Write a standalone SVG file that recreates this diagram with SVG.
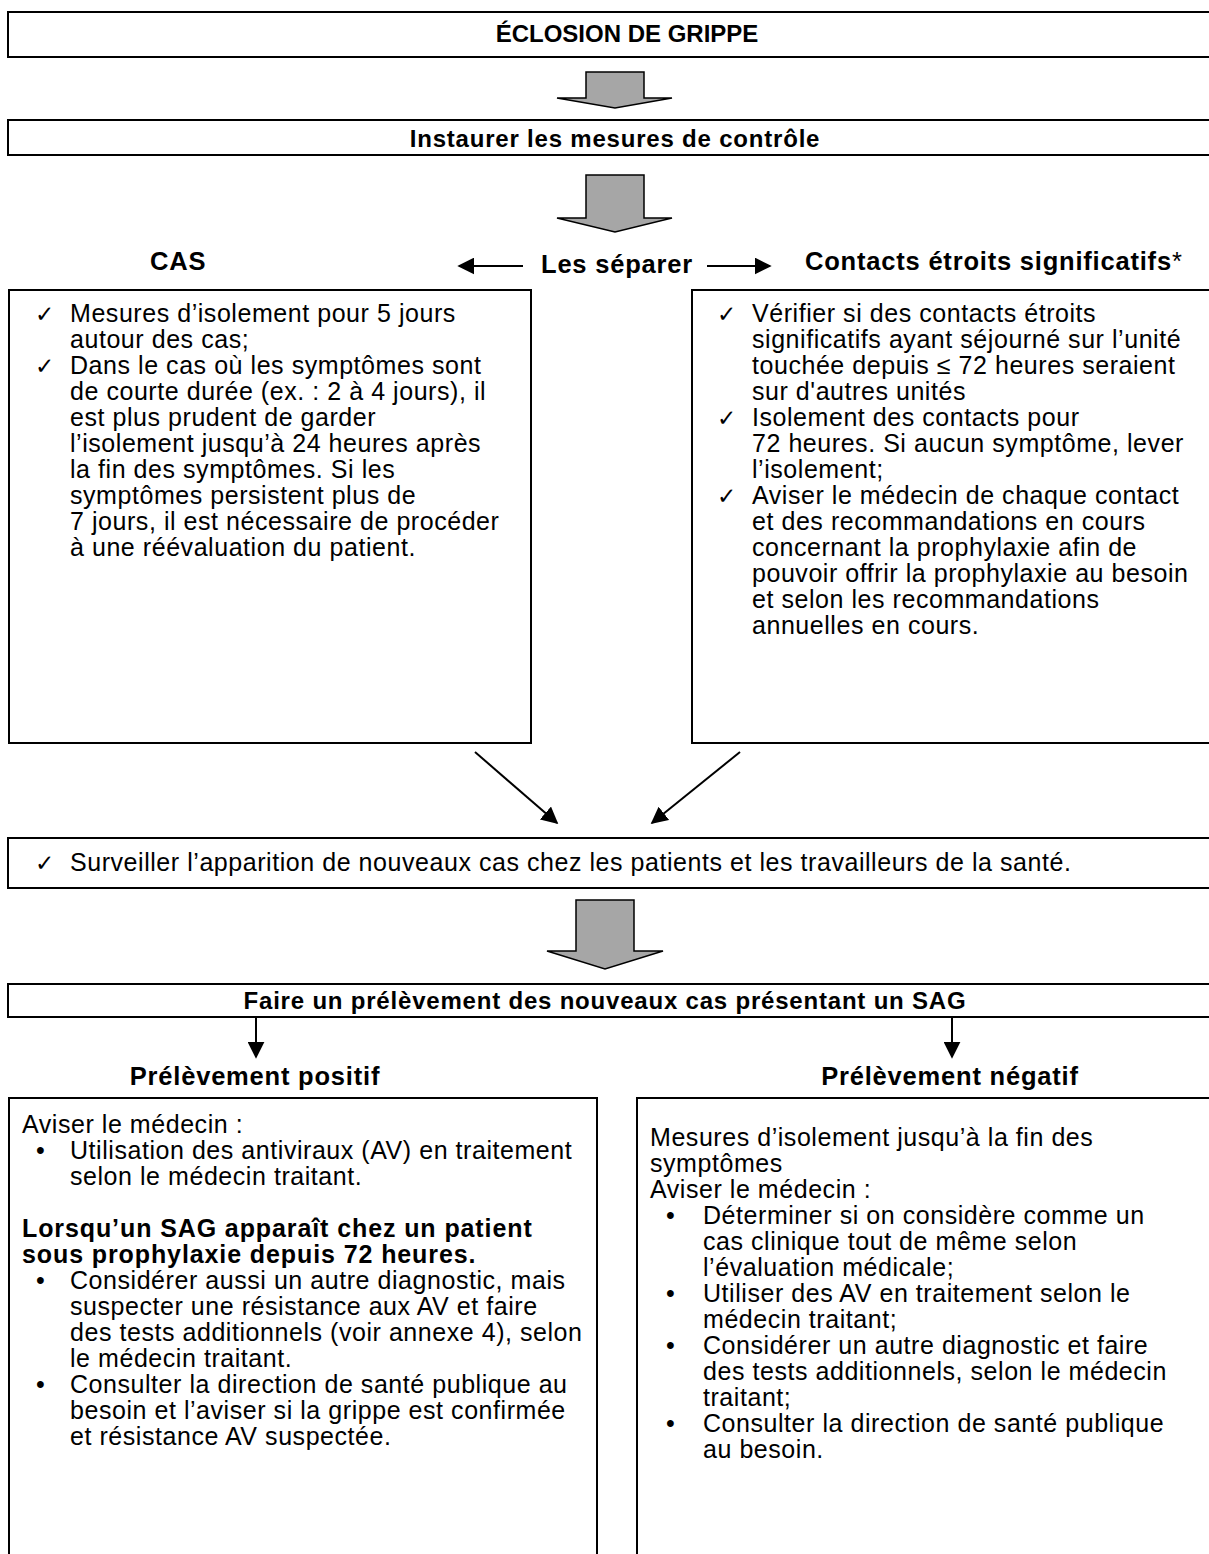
<svg xmlns="http://www.w3.org/2000/svg" width="1209" height="1554" viewBox="0 0 1209 1554">
<defs>
<style>
.box{fill:#fff;stroke:#000;stroke-width:2}
.fat{fill:#a6a6a6;stroke:#000;stroke-width:1.5;stroke-linejoin:miter}
.t{font-family:"Liberation Sans",Arial,sans-serif;font-size:25px;letter-spacing:0.55px;fill:#000}
.b{font-family:"Liberation Sans",Arial,sans-serif;font-size:25px;letter-spacing:0.9px;font-weight:bold;fill:#000}
.h{font-family:"Liberation Sans",Arial,sans-serif;font-size:24px;letter-spacing:0.8px;font-weight:bold;fill:#000;text-anchor:middle}
.lb{font-family:"Liberation Sans",Arial,sans-serif;font-size:25.5px;letter-spacing:0.8px;font-weight:bold;fill:#000}
.ck{font-family:"DejaVu Sans",sans-serif;font-size:23px;fill:#000}
.ln{stroke:#000;stroke-width:2;fill:none}
</style>
<marker id="ahs" viewBox="0 0 10 10" refX="9" refY="5" markerWidth="17" markerHeight="17" orient="auto" markerUnits="userSpaceOnUse">
<path d="M0,0 L10,5 L0,10 z" fill="#000"/>
</marker>
</defs>
<rect width="1209" height="1554" fill="#fff"/>

<g id="n-eclosion">
<rect class="box" x="8" y="12" width="1210" height="45"/>
<text class="h" x="627" y="42" style="letter-spacing:0">ÉCLOSION DE GRIPPE</text>
</g>

<g id="n-instaurer">
<rect class="box" x="8" y="120" width="1210" height="35"/>
<text class="h" x="615" y="147">Instaurer les mesures de contrôle</text>
</g>

<g id="n-cas-label">
<text class="lb" x="150" y="270">CAS</text>
</g>
<g id="n-separer">
<text class="lb" x="541" y="273">Les séparer</text>
</g>
<g id="n-contacts-label">
<text class="lb" x="805" y="270">Contacts étroits significatifs<tspan font-weight="normal">*</tspan></text>
</g>

<g id="n-cas">
<rect class="box" x="9" y="290" width="522" height="453"/>
<text class="ck" x="35" y="322">✓</text>
<text class="ck" x="35" y="374">✓</text>
<text class="t">
<tspan x="70" y="322">Mesures d’isolement pour 5 jours</tspan>
<tspan x="70" y="348">autour des cas;</tspan>
<tspan x="70" y="374">Dans le cas où les symptômes sont</tspan>
<tspan x="70" y="400">de courte durée (ex. : 2 à 4 jours), il</tspan>
<tspan x="70" y="426">est plus prudent de garder</tspan>
<tspan x="70" y="452">l’isolement jusqu’à 24 heures après</tspan>
<tspan x="70" y="478">la fin des symptômes. Si les</tspan>
<tspan x="70" y="504">symptômes persistent plus de</tspan>
<tspan x="70" y="530">7 jours, il est nécessaire de procéder</tspan>
<tspan x="70" y="556">à une réévaluation du patient.</tspan>
</text>
</g>

<g id="n-contacts">
<rect class="box" x="692" y="290" width="530" height="453"/>
<text class="ck" x="717" y="322">✓</text>
<text class="ck" x="717" y="426">✓</text>
<text class="ck" x="717" y="504">✓</text>
<text class="t">
<tspan x="752" y="322">Vérifier si des contacts étroits</tspan>
<tspan x="752" y="348">significatifs ayant séjourné sur l’unité</tspan>
<tspan x="752" y="374">touchée depuis ≤ 72 heures seraient</tspan>
<tspan x="752" y="400">sur d'autres unités</tspan>
<tspan x="752" y="426">Isolement des contacts pour</tspan>
<tspan x="752" y="452">72 heures. Si aucun symptôme, lever</tspan>
<tspan x="752" y="478">l’isolement;</tspan>
<tspan x="752" y="504">Aviser le médecin de chaque contact</tspan>
<tspan x="752" y="530">et des recommandations en cours</tspan>
<tspan x="752" y="556">concernant la prophylaxie afin de</tspan>
<tspan x="752" y="582">pouvoir offrir la prophylaxie au besoin</tspan>
<tspan x="752" y="608">et selon les recommandations</tspan>
<tspan x="752" y="634">annuelles en cours.</tspan>
</text>
</g>

<g id="n-surveiller">
<rect class="box" x="8" y="838" width="1210" height="50"/>
<text class="ck" x="35" y="871">✓</text>
<text class="t" x="70" y="871">Surveiller l’apparition de nouveaux cas chez les patients et les travailleurs de la santé.</text>
</g>

<g id="n-faire">
<rect class="box" x="8" y="984" width="1210" height="33"/>
<text class="h" x="605" y="1009">Faire un prélèvement des nouveaux cas présentant un SAG</text>
</g>

<g id="n-pos-label">
<text class="lb" x="255" y="1085" text-anchor="middle">Prélèvement positif</text>
</g>
<g id="n-neg-label">
<text class="lb" x="950" y="1085" text-anchor="middle">Prélèvement négatif</text>
</g>

<g id="n-positif">
<rect class="box" x="9" y="1098" width="588" height="470"/>
<text class="t" x="22" y="1133">Aviser le médecin :</text>
<text class="t" x="36" y="1159">•</text>
<text class="t" x="70" y="1159">Utilisation des antiviraux (AV) en traitement</text>
<text class="t" x="70" y="1185">selon le médecin traitant.</text>
<text class="b" x="22" y="1237">Lorsqu’un SAG apparaît chez un patient</text>
<text class="b" x="22" y="1263">sous prophylaxie depuis 72 heures.</text>
<text class="t" x="36" y="1289">•</text>
<text class="t">
<tspan x="70" y="1289">Considérer aussi un autre diagnostic, mais</tspan>
<tspan x="70" y="1315">suspecter une résistance aux AV et faire</tspan>
<tspan x="70" y="1341">des tests additionnels (voir annexe 4), selon</tspan>
<tspan x="70" y="1367">le médecin traitant.</tspan>
</text>
<text class="t" x="36" y="1393">•</text>
<text class="t">
<tspan x="70" y="1393">Consulter la direction de santé publique au</tspan>
<tspan x="70" y="1419">besoin et l’aviser si la grippe est confirmée</tspan>
<tspan x="70" y="1445">et résistance AV suspectée.</tspan>
</text>
</g>

<g id="n-negatif">
<rect class="box" x="637" y="1098" width="585" height="470"/>
<text class="t">
<tspan x="650" y="1146">Mesures d’isolement jusqu’à la fin des</tspan>
<tspan x="650" y="1172">symptômes</tspan>
<tspan x="650" y="1198">Aviser le médecin :</tspan>
</text>
<text class="t" x="666" y="1224">•</text>
<text class="t" x="666" y="1302">•</text>
<text class="t" x="666" y="1354">•</text>
<text class="t" x="666" y="1432">•</text>
<text class="t">
<tspan x="703" y="1224">Déterminer si on considère comme un</tspan>
<tspan x="703" y="1250">cas clinique tout de même selon</tspan>
<tspan x="703" y="1276">l’évaluation médicale;</tspan>
<tspan x="703" y="1302">Utiliser des AV en traitement selon le</tspan>
<tspan x="703" y="1328">médecin traitant;</tspan>
<tspan x="703" y="1354">Considérer un autre diagnostic et faire</tspan>
<tspan x="703" y="1380">des tests additionnels, selon le médecin</tspan>
<tspan x="703" y="1406">traitant;</tspan>
<tspan x="703" y="1432">Consulter la direction de santé publique</tspan>
<tspan x="703" y="1458">au besoin.</tspan>
</text>
</g>

<g id="connectors">
<polygon class="fat" points="586,72 644,72 644,98 672,98 615,108 557,98 586,98"/>
<polygon class="fat" points="586,175 644,175 644,218 672,218 615,232 557,218 586,218"/>
<polygon class="fat" points="576,900 634,900 634,951 663,951 605,969 547,951 576,951"/>
<line class="ln" x1="523" y1="266" x2="459" y2="266" marker-end="url(#ahs)"/>
<line class="ln" x1="707" y1="266" x2="770" y2="266" marker-end="url(#ahs)"/>
<line class="ln" x1="475" y1="752" x2="557" y2="823" marker-end="url(#ahs)"/>
<line class="ln" x1="740" y1="752" x2="652" y2="823" marker-end="url(#ahs)"/>
<line class="ln" x1="256" y1="1017" x2="256" y2="1057" marker-end="url(#ahs)"/>
<line class="ln" x1="952" y1="1017" x2="952" y2="1057" marker-end="url(#ahs)"/>
</g>
</svg>
